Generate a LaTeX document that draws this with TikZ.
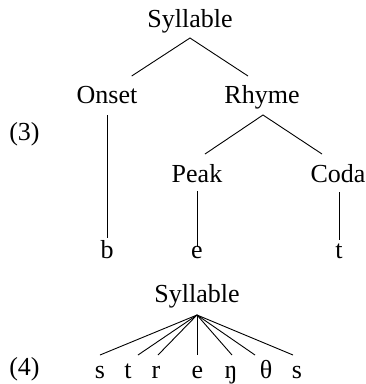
\documentclass[tikz,border=0pt]{standalone}
\usepackage{fontspec}
\setmainfont{Liberation Serif}
\newfontfamily\tnr{Liberation Serif}
\begin{document}
\begin{tikzpicture}[x=1pt,y=-1pt,
  lbl/.style={anchor=base,inner sep=0pt,outer sep=0pt,font=\tnr\fontsize{26}{30}\selectfont},
  edge/.style={draw=black,line width=0.9pt}]
\useasboundingbox (0,0) rectangle (366,384);
% example (3)
\node[lbl] (n3) at (24.5,140) {(3)};
\node[lbl] (syl1) at (190,27) {Syllable};
\node[lbl] (onset) at (107,103) {Onset};
\node[lbl] (rhyme) at (262,103) {Rhyme};
\node[lbl] (peak) at (197,182) {Peak};
\node[lbl] (coda) at (338,182) {Coda};
\node[lbl] (b) at (107,258) {b};
\node[lbl] (e) at (197,258) {e};
\node[lbl] (t) at (339,258) {t};
\draw[edge] ([xshift=24.7pt,yshift=27pt]onset.base) -- ([yshift=-11pt]syl1.base) -- ([xshift=-14pt,yshift=27pt]rhyme.base);
\draw[edge] ([yshift=-12pt]onset.base) -- ([yshift=20pt]b.base);
\draw[edge] ([xshift=8pt,yshift=28pt]peak.base) -- ([xshift=1pt,yshift=-12pt]rhyme.base) -- ([xshift=-16pt,yshift=28pt]coda.base);
\draw[edge] ([yshift=-9pt]peak.base) -- ([yshift=11pt]e.base);
\draw[edge] ([xshift=1pt,yshift=-10pt]coda.base) -- ([yshift=18pt]t.base);
% example (4)
\node[lbl] (n4) at (24.5,375) {(4)};
\node[lbl] (syl2) at (197,302) {Syllable};
\node[lbl] (s1) at (100,378) {s};
\node[lbl] (t2) at (128,378) {t};
\node[lbl] (r) at (156,378) {r};
\node[lbl] (e2) at (197.5,378) {e};
\node[lbl] (ng) at (231,378) {ŋ};
\node[lbl] (th) at (266,378) {θ};
\node[lbl] (s2) at (297,378) {s};
\coordinate (apex) at ([yshift=-13pt]syl2.base);
\draw[edge] (apex) -- ([yshift=23pt]s1.base);
\draw[edge] (apex) -- ([xshift=10pt,yshift=23pt]t2.base);
\draw[edge] (apex) -- ([xshift=2pt,yshift=23pt]r.base);
\draw[edge] (apex) -- ([xshift=-0.5pt,yshift=23pt]e2.base);
\draw[edge] (apex) -- ([xshift=1pt,yshift=23pt]ng.base);
\draw[edge] (apex) -- ([xshift=-11pt,yshift=23pt]th.base);
\draw[edge] (apex) -- ([xshift=-4pt,yshift=23pt]s2.base);
\end{tikzpicture}
\end{document}
